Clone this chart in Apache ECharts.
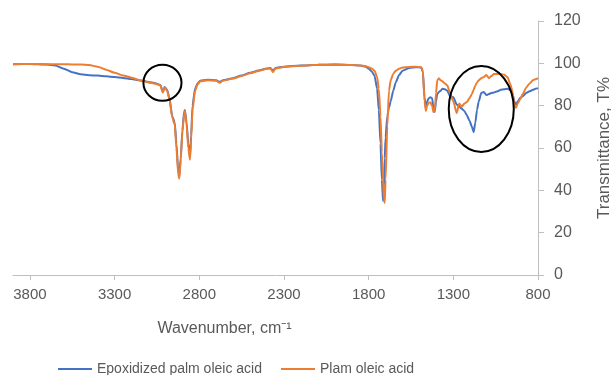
<!DOCTYPE html>
<html>
<head>
<meta charset="utf-8">
<script src="https://cdn.jsdelivr.net/npm/echarts@6/dist/echarts.min.js"></script>
<style>
  html, body { margin: 0; padding: 0; background: #fff; }
  #chart { width: 611px; height: 375px; }
</style>
</head>
<body>
<div id="chart"></div>
<script>
// wavenumber (cm-1) shared by both spectra
const wavenumbers = [
  3900, 3800, 3700, 3650, 3600, 3550, 3500, 3450, 3400, 3350, 3300, 3250, 3200, 3150, 3100,
  3060, 3030, 3015, 3005, 2990, 2975, 2960, 2945, 2935, 2925, 2918, 2910, 2900, 2890, 2885,
  2875, 2865, 2855, 2848, 2840, 2825, 2810, 2795, 2750, 2700, 2680, 2660, 2600, 2550, 2500,
  2450, 2400, 2380, 2365, 2350, 2300, 2200, 2100, 2000, 1900, 1850, 1820, 1800, 1780, 1765,
  1750, 1740, 1730, 1722, 1715, 1710, 1705, 1700, 1690, 1680, 1670, 1655, 1640, 1620, 1600,
  1560, 1520, 1490, 1480, 1470, 1462, 1455, 1445, 1435, 1425, 1418, 1410, 1402, 1395, 1385,
  1375, 1365, 1350, 1335, 1320, 1300, 1280, 1265, 1250, 1235, 1220, 1205, 1190, 1180, 1170,
  1160, 1150, 1135, 1120, 1105, 1090, 1075, 1060, 1040, 1020, 1000, 980, 965, 950, 940,
  930, 920, 905, 890, 870, 850, 830, 815, 800
];

const epoxidized = [
  99.6, 99.7, 99.4, 99.0, 97.5, 95.8, 94.8, 94.4, 94.2, 93.9, 93.5, 93.1, 92.6, 91.9, 91.2,
  90.6, 89.8, 86.5, 88.8, 87.5, 83.0, 75.0, 72.0, 62.0, 50.0, 46.5, 55.0, 68.0, 77.0, 78.0,
  72.0, 62.0, 56.0, 66.0, 80.0, 88.0, 90.5, 91.8, 92.2, 92.0, 91.3, 92.0, 93.0, 94.3, 95.5,
  96.6, 97.6, 97.8, 96.5, 97.8, 98.4, 99.0, 99.3, 99.4, 99.2, 99.0, 98.5, 97.5, 96.0, 94.0,
  88.0, 78.0, 62.0, 45.0, 35.0, 40.0, 55.0, 65.0, 75.0, 79.0, 82.0, 87.0, 91.0, 94.5, 96.5,
  97.8, 98.2, 98.0, 96.0, 84.0, 78.5, 82.0, 83.5, 84.0, 83.5, 79.0, 77.0, 82.0, 85.5, 86.5,
  87.0, 88.0, 87.8, 87.0, 84.5, 84.0, 80.5, 79.5, 78.5, 77.5, 75.5, 73.0, 70.0, 67.5, 72.0,
  78.0, 82.0, 86.0, 86.5, 85.0, 85.5, 86.0, 86.2, 86.8, 87.5, 87.8, 88.0, 87.5, 85.5, 82.0,
  80.5, 82.0, 83.6, 84.5, 86.0, 86.8, 87.5, 88.0, 88.3
];

const palmOleic = [
  99.6, 99.7, 99.6, 99.6, 99.6, 99.5, 99.4, 99.2, 98.4, 97.0, 95.5, 94.3, 93.2, 92.0, 91.0,
  90.4, 89.6, 86.2, 88.5, 87.2, 82.5, 74.5, 71.0, 60.0, 48.0, 45.5, 54.0, 67.0, 76.0, 77.5,
  71.0, 60.0, 54.5, 64.0, 78.0, 87.0, 90.0, 91.5, 92.0, 91.8, 90.8, 91.8, 92.8, 94.0, 95.3,
  96.4, 97.4, 97.6, 95.8, 97.6, 98.3, 98.9, 99.3, 99.4, 99.2, 99.0, 98.7, 98.2, 97.5, 96.5,
  93.5, 88.0, 75.0, 58.0, 45.0, 36.0, 34.0, 45.0, 70.0, 87.0, 92.0, 95.0, 96.5, 97.5, 98.0,
  98.3, 98.4, 98.2, 96.5, 82.0, 77.5, 80.0, 81.5, 81.5, 80.0, 77.0, 77.5, 86.0, 92.0, 93.0,
  92.0, 91.5, 90.5, 89.5, 86.0, 82.0, 76.5, 81.0, 79.5, 81.0, 81.7, 83.5, 85.5, 87.5, 89.5,
  91.0, 92.0, 93.0, 93.5, 94.5, 93.0, 94.0, 95.0, 95.0, 95.0, 94.6, 93.5, 90.5, 86.5, 80.0,
  79.0, 81.0, 83.0, 85.5, 88.5, 90.5, 92.0, 92.5, 93.0
];

const seriesNames = ['Epoxidized palm oleic acid', 'Plam oleic acid'];
const xTicks = [3800, 3300, 2800, 2300, 1800, 1300, 800];
const yTicks = [0, 20, 40, 60, 80, 100, 120];

// circled regions: [wnFrom, wnTo, tTop, tBottom]
const marks = [
  [3130, 2905, 99.3, 82.3],
  [1327, 943, 98.7, 58.1]
];

const pair = (vals) => wavenumbers.map((w, i) => [w, vals[i]]);

const chart = echarts.init(document.getElementById('chart'));
const axisGray = '#bfbfbf';
const textGray = '#595959';
const font = 'Liberation Sans, Arial, sans-serif';

chart.setOption({
  animation: false,
  color: ['#4472C4', '#ED7D31'],
  grid: {
    left: 13,
    right: 73,
    top: 21,
    bottom: 100,
    containLabel: false,
    outerBoundsMode: 'none',
  },
  legend: {
    data: seriesNames,
    left: 58,
    top: 362,
    padding: 0,
    icon: 'rect',
    itemWidth: 34,
    itemHeight: 2,
    itemGap: 19,
    textStyle: { color: textGray, fontSize: 14, fontFamily: font },
  },
  xAxis: {
    type: 'value',
    inverse: true,
    min: 800,
    max: 3900,
    interval: 500,
    name: 'Wavenumber, cm⁻¹',
    nameLocation: 'middle',
    nameGap: 46,
    nameTextStyle: { color: textGray, fontSize: 16, fontFamily: font, padding: [0, 102, 0, 0] },
    axisLine: { lineStyle: { color: axisGray, width: 1 } },
    axisTick: { show: true, length: 5, lineStyle: { color: axisGray }, customValues: xTicks },
    axisLabel: {
      color: textGray,
      fontSize: 15,
      fontFamily: font,
      margin: 12,
      customValues: xTicks,
      formatter: (v) => String(v),
    },
    splitLine: { show: false },
  },
  yAxis: {
    type: 'value',
    position: 'right',
    min: 0,
    max: 120,
    interval: 20,
    name: 'Transmittance, T%',
    nameLocation: 'middle',
    nameRotate: 90,
    nameGap: 58,
    nameTextStyle: { color: textGray, fontSize: 17, fontFamily: font },
    axisLine: { show: true, lineStyle: { color: axisGray, width: 1 } },
    axisTick: { show: true, length: 6, lineStyle: { color: axisGray }, customValues: yTicks },
    axisLabel: { color: textGray, fontSize: 16, fontFamily: font, margin: 16, customValues: yTicks },
    splitLine: { show: false },
  },
  series: [
    {
      name: seriesNames[0],
      type: 'line',
      data: pair(epoxidized),
      symbol: 'none',
      smooth: 0.2,
      smoothMonotone: 'x',
      lineStyle: { width: 2 },
    },
    {
      name: seriesNames[1],
      type: 'line',
      data: pair(palmOleic),
      symbol: 'none',
      smooth: 0.2,
      smoothMonotone: 'x',
      lineStyle: { width: 2 },
    },
  ],
});

// ellipses around the regions of interest, placed through the axes
const ellipses = marks.map(([w1, w2, t1, t2]) => {
  const p1 = chart.convertToPixel({ gridIndex: 0 }, [w1, t1]);
  const p2 = chart.convertToPixel({ gridIndex: 0 }, [w2, t2]);
  return {
    type: 'ellipse',
    z: 100,
    shape: {
      cx: (p1[0] + p2[0]) / 2,
      cy: (p1[1] + p2[1]) / 2,
      rx: Math.abs(p2[0] - p1[0]) / 2,
      ry: Math.abs(p2[1] - p1[1]) / 2,
    },
    style: { fill: 'none', stroke: '#000', lineWidth: 2 },
  };
});
chart.setOption({ graphic: ellipses });
</script>
</body>
</html>
